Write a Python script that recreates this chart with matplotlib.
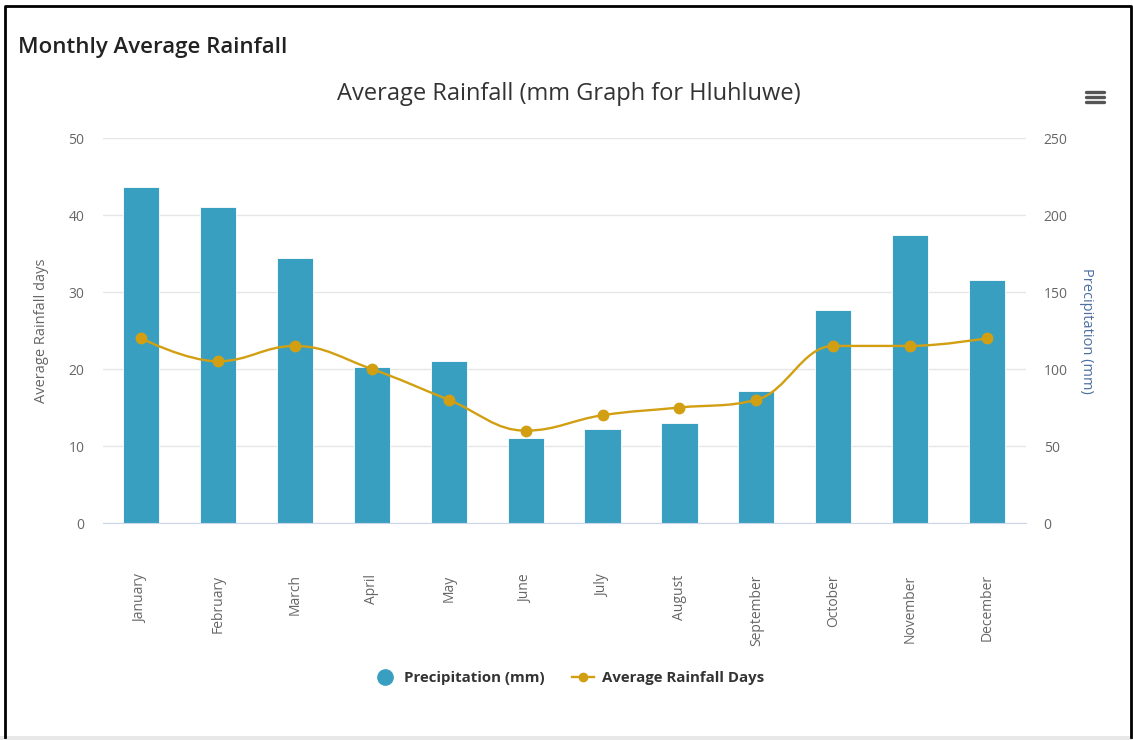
import numpy as np
import matplotlib.pyplot as plt
from matplotlib.path import Path
from matplotlib.patches import PathPatch, Rectangle
from matplotlib.lines import Line2D

plt.rcParams['font.family'] = ['Open Sans', 'DejaVu Sans']

months = ["January", "February", "March", "April", "May", "June",
          "July", "August", "September", "October", "November", "December"]
precip_mm = [218, 205, 172, 101, 105, 55, 61, 65, 86, 138, 187, 158]
rain_days = [24, 21, 23, 20, 16, 12, 14, 15, 16, 23, 23, 24]

BAR_COLOR = "#389fc1"
LINE_COLOR = "#d29f12"
GRID_COLOR = "#e6e6e6"
TICK_COLOR = "#666666"


def spline_path(xs, ys, smoothing=1.5):
    # bezier spline through the points, same control point rule as highcharts
    n = len(xs)
    left = [None] * n
    right = [None] * n
    for i in range(n):
        x, y = xs[i], ys[i]
        if i == 0 or i == n - 1:
            left[i] = (x, y)
            right[i] = (x, y)
            continue
        lx, ly = xs[i - 1], ys[i - 1]
        nx, ny = xs[i + 1], ys[i + 1]
        lcx = (smoothing * x + lx) / (smoothing + 1)
        lcy = (smoothing * y + ly) / (smoothing + 1)
        rcx = (smoothing * x + nx) / (smoothing + 1)
        rcy = (smoothing * y + ny) / (smoothing + 1)
        if rcx != lcx:
            corr = (rcy - lcy) * (rcx - x) / (rcx - lcx) + y - rcy
            lcy += corr
            rcy += corr
        if lcy > ly and lcy > y:
            lcy = max(ly, y)
            rcy = 2 * y - lcy
        elif lcy < ly and lcy < y:
            lcy = min(ly, y)
            rcy = 2 * y - lcy
        if rcy > ny and rcy > y:
            rcy = max(ny, y)
            lcy = 2 * y - rcy
        elif rcy < ny and rcy < y:
            rcy = min(ny, y)
            lcy = 2 * y - rcy
        left[i] = (lcx, lcy)
        right[i] = (rcx, rcy)
    verts = [(xs[0], ys[0])]
    codes = [Path.MOVETO]
    for i in range(1, n):
        verts += [right[i - 1], left[i], (xs[i], ys[i])]
        codes += [Path.CURVE4] * 3
    return Path(verts, codes)


fig = plt.figure(figsize=(11.33, 7.4), dpi=100)

ax = fig.add_axes([0.0905, 0.2932, 0.8147, 0.5203])
ax2 = ax.twinx()
x = np.arange(len(months))

# precipitation bars, scale on the right
ax.bar(x, precip_mm, width=0.47, color=BAR_COLOR, edgecolor="white", linewidth=0.6, zorder=2)
ax.set_xlim(-0.5, len(months) - 0.5)
ax.set_ylim(0, 250)
ax.set_yticks(range(0, 251, 50))
ax.yaxis.tick_right()
ax.yaxis.set_label_position("right")
ax.grid(axis="y", color=GRID_COLOR, linewidth=1)
ax.set_axisbelow(True)
for s in ["top", "left", "right"]:
    ax.spines[s].set_visible(False)
ax.spines["bottom"].set_color("#ccd6eb")
ax.set_xticks(x)
ax.set_xticklabels(months, rotation=90, va="top", ha="center", fontsize=10, color=TICK_COLOR)
ax.tick_params(axis="x", length=0, pad=37)
ax.tick_params(axis="y", length=0, pad=13, labelsize=10, labelcolor=TICK_COLOR)
ax.set_ylabel("Precipitation (mm)", rotation=270, color="#4d6fa3", fontsize=10.5, labelpad=19)

# rainfall days line, scale on the left
ax2.set_ylim(0, 50)
ax2.set_yticks(range(0, 51, 10))
ax2.yaxis.tick_left()
ax2.yaxis.set_label_position("left")
for s in ax2.spines.values():
    s.set_visible(False)
ax2.tick_params(axis="y", length=0, pad=13, labelsize=10, labelcolor=TICK_COLOR)
ax2.set_ylabel("Average Rainfall days", color=TICK_COLOR, fontsize=10.5, labelpad=14)
ax2.add_patch(PathPatch(spline_path(list(x), rain_days), facecolor="none",
                        edgecolor=LINE_COLOR, linewidth=1.7, zorder=3))
ax2.plot(x, rain_days, linestyle="none", marker="o", markersize=7.5,
         color=LINE_COLOR, zorder=4)

# titles
fig.text(18 / 1133, 1 - 47 / 740, "Monthly Average Rainfall", fontsize=16,
         fontweight="semibold", color="#222222", va="center", ha="left")
fig.text(569 / 1133, 1 - 94 / 740, "Average Rainfall (mm Graph for Hluhluwe)",
         fontsize=17, color="#333333", va="center", ha="center")

# legend
legend_handles = [
    Line2D([], [], linestyle="none", marker="o", markersize=11, color=BAR_COLOR),
    Line2D([], [], color=LINE_COLOR, linewidth=1.7, marker="o", markersize=6),
]
fig.legend(legend_handles, ["Precipitation (mm)", "Average Rainfall Days"],
           loc="center", bbox_to_anchor=(569 / 1133, 1 - 678 / 740), ncol=2,
           frameon=False, prop={"weight": "bold", "size": 10.8}, labelcolor="#333333",
           handlelength=1.5, columnspacing=1.8, handletextpad=0.5)

# menu icon
for yy in [92, 97, 102]:
    fig.add_artist(Line2D([1086 / 1133, 1104 / 1133], [1 - yy / 740] * 2,
                          color="#555555", linewidth=2.4, solid_capstyle="round"))

# page frame
fig.add_artist(Line2D([5 / 1133, 5 / 1133, 1131 / 1133, 1131 / 1133],
                      [0.004, 1 - 6 / 740, 1 - 6 / 740, 0.004],
                      color="black", linewidth=2))
fig.add_artist(Rectangle((0, 0), 1, 4 / 740, transform=fig.transFigure,
                         facecolor="#e8e8e8", edgecolor="none"))

fig.savefig("out.png", dpi=100)
